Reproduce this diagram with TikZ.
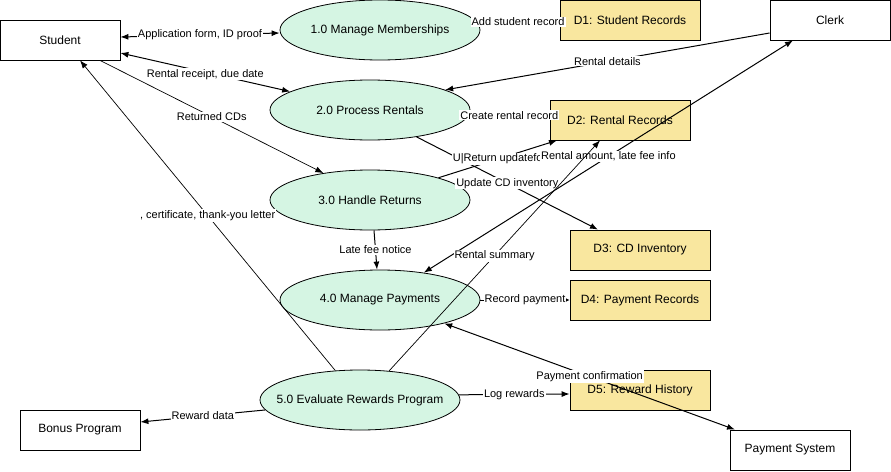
\documentclass[tikz,border=0pt]{standalone}
\usepackage{fontspec}
\setmainfont{Liberation Sans}
\usepackage{tikz}
\usetikzlibrary{shapes.geometric}
\usetikzlibrary{arrows.meta}
\usepackage{xcolor}
\definecolor{procfill}{HTML}{D5F5E3}
\definecolor{storefill}{HTML}{F9E79F}

\begin{document}
\begin{tikzpicture}[x=1pt,y=-1pt,
  proc/.style={ellipse,draw,fill=procfill,line width=.8pt,minimum width=200pt,minimum height=60pt,inner sep=0pt,font=\fontsize{12}{14}\selectfont},
  ent/.style={rectangle,draw,fill=white,line width=.8pt,minimum width=120pt,minimum height=40pt,inner sep=0pt,font=\fontsize{12}{14}\selectfont},
  store/.style={rectangle,draw,fill=storefill,line width=.8pt,minimum width=140pt,minimum height=40pt,inner sep=0pt,font=\fontsize{12}{14}\selectfont},
  flow/.style={line width=1pt,-{Latex[length=8pt,width=6pt]}},
  twoway/.style={flow,{Latex[length=8pt,width=6pt]}-{Latex[length=8pt,width=6pt]}},
  thinflow/.style={flow,line width=.7pt},
  lbl/.style={fill=white,inner sep=1pt,font=\fontsize{11}{13}\selectfont}]
\useasboundingbox (0,0) rectangle (891,471);
% external entities
\node[ent] (stu) at (60,40) {Student};
\node[ent] (clerk) at (830,20) {Clerk};
\node[ent] (bonus) at (80,430) {Bonus Program};
\node[ent] (pay) at (790,450) {Payment System};
% processes
\node[proc] (p1) at (380,30) {1.0 Manage Memberships};
\node[proc] (p2) at (370,110) {2.0 Process Rentals};
\node[proc] (p3) at (370,200) {3.0 Handle Returns};
\node[proc] (p4) at (380,300) {4.0 Manage Payments};
\node[proc,inner xsep=-16pt] (p5) at (360,400) {5.0 Evaluate Rewards Program};
% data stores
\node[store] (d1) at (630,20) {D1: Student Records};
\node[store] (d2) at (620,120) {D2: Rental Records};
\node[store] (d3) at (640,250) {D3: CD Inventory};
\node[store] (d4) at (640,300) {D4: Payment Records};
\node[store] (d5) at (640,390) {D5: Reward History};
% flows
\draw[twoway] ([yshift=3pt]stu.east) -- ([yshift=-3pt]p1.west) node[lbl,midway]{Application form, ID proof};
\draw[twoway] ([yshift=-13pt]stu.east) -- (p2.167) node[lbl,midway,yshift=-2pt]{Rental receipt, due date};
\draw[thinflow] ([xshift=40pt]stu.south) -- (p3.150) node[lbl,midway]{Returned CDs};
\draw[thinflow] (p5.130) -- ([xshift=20pt]stu.south) node[lbl,midway]{, certificate, thank-you letter};
\draw[flow] (p1.5) -- ([yshift=-2pt]d1.west) node[lbl,midway]{Add student record};
\draw[flow] ([yshift=-13pt]clerk.west) -- (p2.15) node[lbl,midway]{Rental details};
\draw[flow] (p2.-3) -- ([yshift=5pt]d2.west) node[lbl,midway]{Create rental record};
\draw[flow] (p2.-30) -- ([xshift=-42pt]d3.north) node[lbl,midway]{Update CD inventory};
\draw[flow] (p3.18) -- ([xshift=-63pt]d2.south) node[lbl,midway]{U|Return updatefo};
\draw[twoway] ([xshift=-37pt]clerk.south) -- (p4.32) node[lbl,midway]{Rental amount, late fee info};
\draw[flow] ([xshift=4pt]p3.south) -- ([xshift=-3pt]p4.north) node[lbl,midway]{Late fee notice};
\draw[flow,-{Latex[length=4pt,width=4pt]}] (p4.east) -- (d4.west) node[lbl,midway]{Record payment};
\draw[twoway] ([xshift=-55pt]pay.north) -- (p4.-20) node[lbl,midway]{Payment confirmation};
\draw[flow] (p5.3) -- ([yshift=-4pt]d5.west) node[lbl,midway]{Log rewards};
\draw[flow] (p5.186) -- ([yshift=8pt]bonus.east) node[lbl,midway]{Reward data};
\draw[thinflow] (p5.45) -- ([xshift=-20pt]d2.south) node[lbl,midway]{Rental summary};
\end{tikzpicture}
\end{document}
